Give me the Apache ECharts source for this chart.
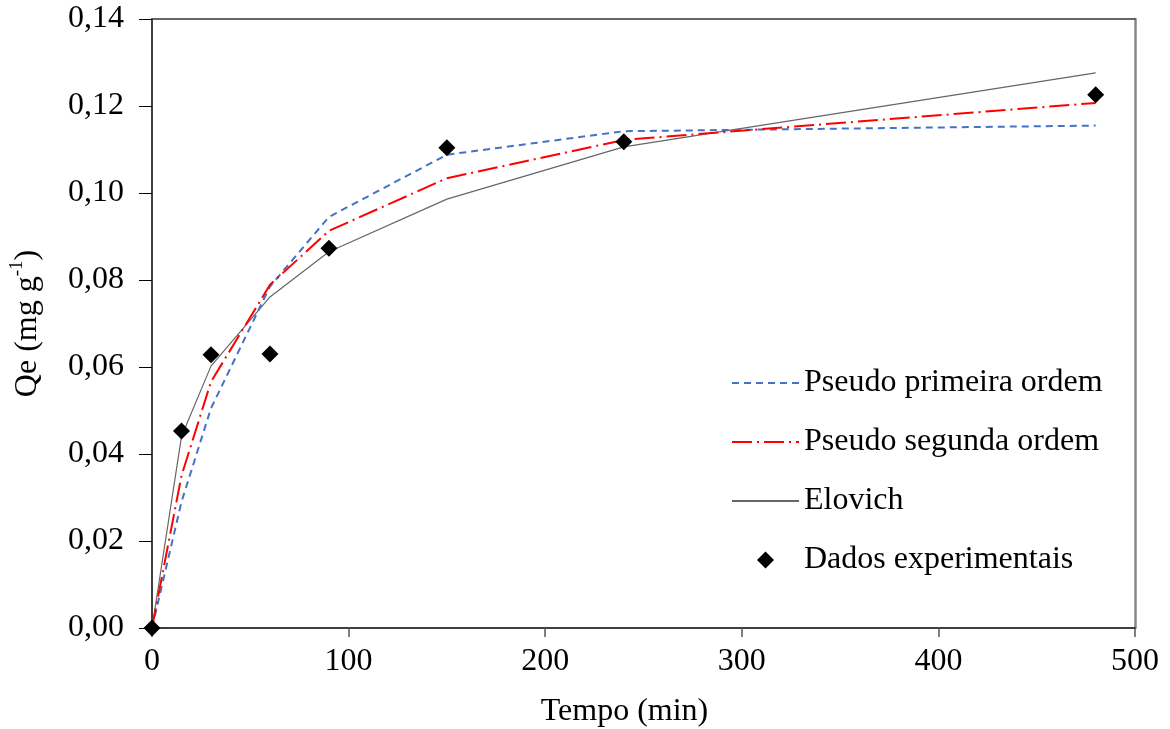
<!DOCTYPE html>
<html>
<head>
<meta charset="utf-8">
<script src="https://cdn.jsdelivr.net/npm/echarts@6/dist/echarts.min.js"></script>
<style>html,body{margin:0;padding:0;background:#fff}#c{width:1170px;height:729px}</style>
</head>
<body>
<div id="c"></div>
<script>
const tempo = [0, 15, 30, 60, 90, 150, 240, 480];
const pseudoPrimeira = [0, 0.0290, 0.0505, 0.0785, 0.0945, 0.1088, 0.1142, 0.1155];
const pseudoSegunda = [0, 0.0350, 0.0566, 0.0789, 0.0913, 0.1034, 0.1122, 0.1207];
const elovich = [0, 0.0440, 0.0602, 0.0761, 0.0865, 0.0986, 0.1106, 0.1276];
const experimentais = [0, 0.0453, 0.0628, 0.0630, 0.0873, 0.1104, 0.1118, 0.1226];
const xTicks = [0, 100, 200, 300, 400, 500];
const yTicks = [0, 0.02, 0.04, 0.06, 0.08, 0.10, 0.12, 0.14];

const pair = arr => tempo.map((t, i) => [t, arr[i]]);
const FONT = '"Liberation Serif", "Times New Roman", serif';
const FS = 32;
const DIAMOND = 'path://M5,0L10,5L5,10L0,5Z';
const hideSym = {opacity: 0};

const chart = echarts.init(document.getElementById('c'), null, {renderer: 'canvas'});
chart.setOption({
  animation: false,
  backgroundColor: '#fff',
  textStyle: {fontFamily: FONT, color: '#000'},
  grid: {left: 152, right: 35, top: 19, bottom: 101, show: false, containLabel: false, outerBoundsMode: 'none'},
  legend: {
    orient: 'vertical',
    left: 726,
    top: 361,
    itemWidth: 67,
    itemHeight: 17,
    itemGap: 25,
    textStyle: {fontFamily: FONT, fontSize: FS, color: '#000', lineHeight: 34},
    data: [
      {name: 'Pseudo primeira ordem', itemStyle: hideSym},
      {name: 'Pseudo segunda ordem', itemStyle: hideSym},
      {name: 'Elovich', itemStyle: hideSym},
      {name: 'Dados experimentais', icon: DIAMOND}
    ]
  },
  xAxis: [{
    type: 'value', min: xTicks[0], max: xTicks[xTicks.length - 1], interval: 100,
    name: 'Tempo (min)', nameLocation: 'middle', nameGap: 68,
    nameTextStyle: {fontFamily: FONT, fontSize: FS, color: '#000', padding: [0, 38, 0, 0]},
    axisLine: {show: true, onZero: false, lineStyle: {color: '#000', width: 1.5}},
    axisTick: {show: true, inside: false, length: 9, lineStyle: {color: '#555', width: 1.5}},
    axisLabel: {fontFamily: FONT, fontSize: FS, color: '#000', margin: 18},
    splitLine: {show: false}
  }, {
    type: 'value', position: 'top', min: 0, max: 500,
    axisLine: {show: true, onZero: false, lineStyle: {color: '#333', width: 1.5}},
    axisTick: {show: false}, axisLabel: {show: false}, splitLine: {show: false}
  }],
  yAxis: [{
    type: 'value', min: yTicks[0], max: yTicks[yTicks.length - 1], interval: 0.02,
    name: '{a|Qe (mg g}{s|-1}{a|)}', nameLocation: 'middle', nameGap: 108, nameRotate: 90,
    nameTextStyle: {
      fontFamily: FONT, fontSize: FS, color: '#000',
      rich: {
        a: {fontFamily: FONT, fontSize: FS, color: '#000', lineHeight: 36, verticalAlign: 'bottom'},
        s: {fontFamily: FONT, fontSize: 19, color: '#000', lineHeight: 36, verticalAlign: 'top', padding: [0, 0, 14, 0]}
      }
    },
    axisLine: {show: true, onZero: false, lineStyle: {color: '#000', width: 1.5}},
    axisTick: {show: true, inside: false, length: 13, lineStyle: {color: '#000', width: 1}},
    axisLabel: {fontFamily: FONT, fontSize: FS, color: '#000', margin: 28,
      formatter: v => v.toFixed(2).replace('.', ',')},
    splitLine: {show: false}
  }, {
    type: 'value', position: 'right', min: 0, max: 0.14,
    axisLine: {show: true, onZero: false, lineStyle: {color: '#888', width: 2.5}},
    axisTick: {show: false}, axisLabel: {show: false}, splitLine: {show: false}
  }],
  series: [{
    name: 'Pseudo primeira ordem', type: 'line', data: pair(pseudoPrimeira),
    symbol: 'none', showSymbol: false, z: 3,
    lineStyle: {color: '#4472C4', width: 2, type: [7, 5]},
    itemStyle: {color: '#4472C4'}
  }, {
    name: 'Pseudo segunda ordem', type: 'line', data: pair(pseudoSegunda),
    symbol: 'none', showSymbol: false, z: 3,
    lineStyle: {color: '#FF0000', width: 2, type: [20, 5, 2, 5]},
    itemStyle: {color: '#FF0000'}
  }, {
    name: 'Elovich', type: 'line', data: pair(elovich),
    symbol: 'none', showSymbol: false, z: 2,
    lineStyle: {color: '#666', width: 1.2, type: 'solid'},
    itemStyle: {color: '#666'}
  }, {
    name: 'Dados experimentais', type: 'scatter', data: pair(experimentais),
    symbol: 'diamond', symbolSize: 17, z: 5, symbolKeepAspect: true,
    itemStyle: {color: '#000', opacity: 1}
  }]
});
</script>
</body>
</html>
